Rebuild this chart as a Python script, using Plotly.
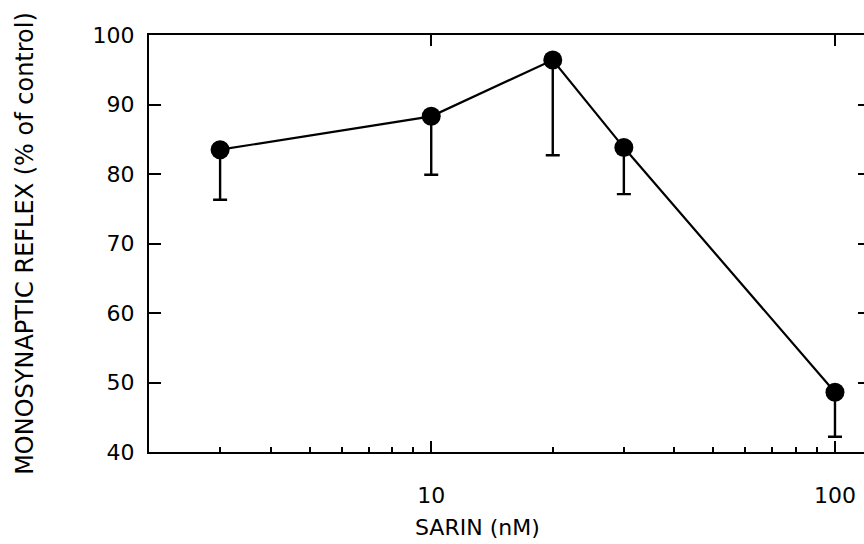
import plotly.graph_objects as go
import math

# Data
sarin_nM = [3, 10, 20, 30, 100]
reflex_pct = [83.5, 88.3, 96.4, 83.8, 48.6]
err_minus = [7.2, 8.4, 13.7, 6.7, 6.4]

y_ticks = [40, 50, 60, 70, 80, 90, 100]
x_major = [10, 100]
x_minor = [2, 3, 4, 5, 6, 7, 8, 9, 20, 30, 40, 50, 60, 70, 80, 90]

FONT = "DejaVu Sans"
xr = [math.log10(2), math.log10(118)]

fig = go.Figure()
fig.add_trace(go.Scatter(
    x=sarin_nM, y=reflex_pct, mode="lines+markers",
    line=dict(color="black", width=2.2),
    marker=dict(color="black", size=19),
    error_y=dict(type="data", symmetric=False, array=[0]*len(err_minus),
                 arrayminus=err_minus, color="black", thickness=2.4, width=7),
    showlegend=False,
))
# invisible traces for secondary axes
fig.add_trace(go.Scatter(x=[10], y=[None], xaxis="x2", yaxis="y", showlegend=False,
                         hoverinfo="skip", mode="markers", marker=dict(opacity=0)))
fig.add_trace(go.Scatter(x=[10], y=[None], xaxis="x", yaxis="y2", showlegend=False,
                         hoverinfo="skip", mode="markers", marker=dict(opacity=0)))

fig.update_layout(
    width=864, height=544,
    margin=dict(l=149, r=0, t=35, b=92, autoexpand=False),
    plot_bgcolor="white", paper_bgcolor="white",
    font=dict(family=FONT, color="black", size=22),
    xaxis=dict(
        type="log", range=xr, showgrid=False, zeroline=False, automargin=False,
        showline=True, linecolor="black", linewidth=2.2, mirror=True,
        tickvals=x_major, ticktext=[str(v) for v in x_major],
        ticks="inside", ticklen=11, tickwidth=2, tickcolor="black",
        ticklabelstandoff=22, tickfont=dict(size=22),
        minor=dict(tickvals=x_minor, ticks="inside", ticklen=5, tickwidth=1.5,
                   tickcolor="black", showgrid=False),
    ),
    xaxis2=dict(
        type="log", range=xr, overlaying="x", side="top", showgrid=False,
        zeroline=False, showline=False, tickvals=x_major, showticklabels=False,
        ticks="inside", ticklen=11, tickwidth=2, tickcolor="black", automargin=False,
    ),
    yaxis=dict(
        range=[40, 100], showgrid=False, zeroline=False, automargin=False,
        showline=True, linecolor="black", linewidth=2.2, mirror=False,
        tickvals=y_ticks, ticks="inside", ticklen=12, tickwidth=2, tickcolor="black",
        ticklabelstandoff=8, tickfont=dict(size=22),
        title=dict(text="MONOSYNAPTIC REFLEX (% of control)", standoff=52,
                   font=dict(size=24)),
    ),
    yaxis2=dict(
        range=[40, 100], overlaying="y", side="right", showgrid=False, automargin=False,
        zeroline=False, showline=False, tickvals=y_ticks[1:-1], showticklabels=False,
        ticks="inside", ticklen=6, tickwidth=2, tickcolor="black",
    ),
    annotations=[dict(text="SARIN (nM)", xref="paper", yref="paper",
                      x=0.46, y=0, yshift=-75, showarrow=False,
                      xanchor="center", yanchor="middle", font=dict(size=22))],
)

fig.write_html("out.html", config={"displayModeBar": False},
               post_script="document.body.style.margin='0px';document.body.style.overflow='hidden';")
